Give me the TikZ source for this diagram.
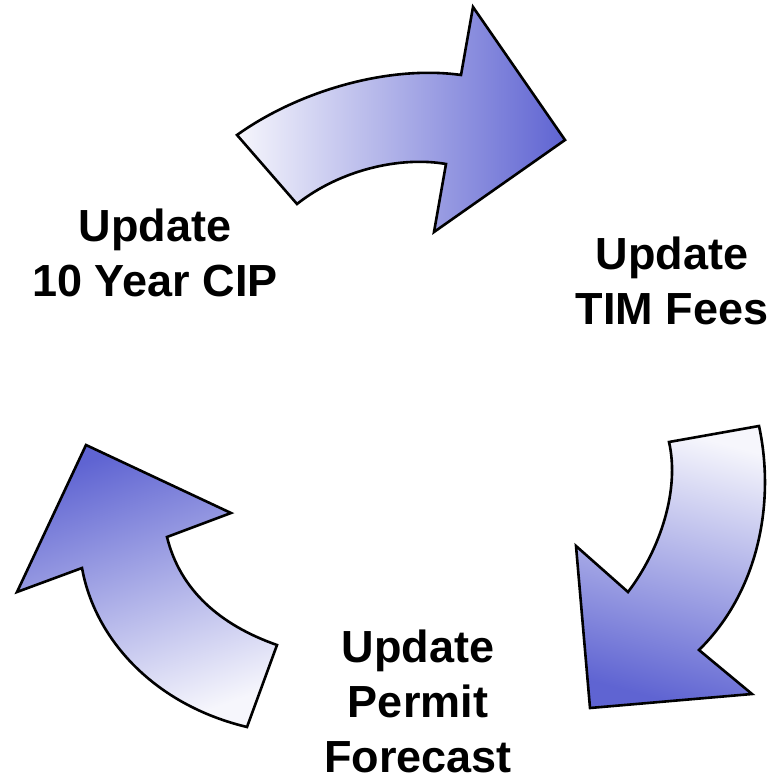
\documentclass[tikz,border=0pt]{standalone}
\usepackage{fontspec}
\setmainfont{Liberation Sans}
\usepackage{xcolor}
\definecolor{arrowdark}{RGB}{95,100,210}
\definecolor{arrowlight}{RGB}{246,246,252}

\begin{document}
\begin{tikzpicture}[x=0.5pt, y=-0.5pt,
       bigarrow/.style={draw=black, line width=1.3pt},
       steplabel/.style={align=center, inner sep=0pt, font=\bfseries\fontsize{22.5}{27.5}\selectfont}]
       \useasboundingbox (0,0) rectangle (780,779);

       % top arrow
       \shade[bigarrow, left color=arrowlight, right color=arrowdark]
              (237,135) .. controls (300,90) and (390,65) .. (461,75) -- (473,7) -- (565,140)
              -- (434,232) -- (446,164) .. controls (400,156) and (340,170) .. (297,204) -- cycle;

       % right arrow
       \shade[bigarrow, top color=arrowlight, bottom color=arrowdark, shading angle=-15]
              (669,442) -- (759,426) .. controls (775,500) and (760,590) .. (699,650) -- (752,694)
              -- (590,708) -- (576,546) -- (628,592) .. controls (660,550) and (680,490) .. (669,442) -- cycle;

       % left arrow
       \shade[bigarrow, top color=arrowdark, bottom color=arrowlight, shading angle=20]
              (86,445) -- (231,513) -- (167,537) .. controls (180,590) and (220,625) .. (277,645)
              -- (247,727) .. controls (155,705) and (95,640) .. (82,568) -- (17,592) -- cycle;

       % base anchor sits on the last line
       \node[steplabel, anchor=base] (cip) at (155,297) {Update\\10 Year CIP};
       \node[steplabel, anchor=base] (tim) at (672,325) {Update\\TIM Fees};
       \node[steplabel, anchor=base] (permit) at (418,772) {Update\\Permit\\Forecast};
\end{tikzpicture}
\end{document}
